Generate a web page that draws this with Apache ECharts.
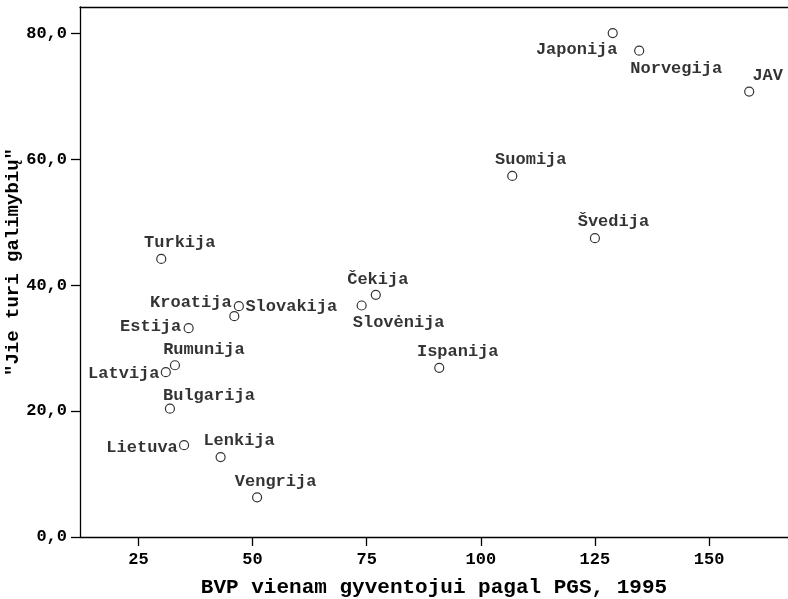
<!DOCTYPE html>
<html>
<head>
<meta charset="utf-8">
<script src="https://cdn.jsdelivr.net/npm/echarts@6/dist/echarts.min.js"></script>
<style>
  html, body { margin: 0; padding: 0; background: #fff; }
  #chart { width: 788px; height: 599px; }
</style>
</head>
<body>
<div id="chart"></div>
<script>
  // data
  const countries = ['Japonija', 'Norvegija', 'JAV', 'Suomija', 'Švedija', 'Turkija', 'Čekija',
    'Slovėnija', 'Kroatija', 'Slovakija', 'Estija', 'Rumunija', 'Latvija', 'Ispanija',
    'Bulgarija', 'Lietuva', 'Lenkija', 'Vengrija'];
  const gdp = [128.9, 134.7, 158.8, 106.9, 125.0, 30.0, 77.0,
    73.9, 47.0, 46.0, 36.0, 33.0, 31.0, 90.9,
    31.9, 35.0, 43.0, 51.0];
  const chances = [80.1, 77.3, 70.8, 57.4, 47.5, 44.2, 38.5,
    36.8, 36.7, 35.1, 33.2, 27.3, 26.2, 26.9,
    20.4, 14.6, 12.7, 6.3];
  const xTicks = [25, 50, 75, 100, 125, 150];
  const yTicks = [0, 20, 40, 60, 80];

  // where each label sits relative to its point (px)
  const labelOffsets = {
    'Japonija': [-36, 17], 'Norvegija': [37, 18], 'Slovėnija': [37, 17],
    'Kroatija': [-48, -3], 'Slovakija': [57, -9], 'Estija': [-38, -1],
    'Latvija': [-42, 2], 'Lietuva': [-42, 3], 'Bulgarija': [39, -13],
    'Rumunija': [29, -16], 'Čekija': [2, -15]
  };

  const font = 'Liberation Mono';
  const chart = echarts.init(document.getElementById('chart'));

  const points = countries.map((c, i) => ({
    name: c,
    value: [gdp[i], chances[i]],
    label: { offset: labelOffsets[c] || [18.5, -16] }
  }));

  chart.setOption({
    animation: false,
    grid: { left: 80, top: 7, right: 0, bottom: 62, containLabel: false, outerBoundsMode: 'none' },
    xAxis: [{
      type: 'value',
      min: 12.2,
      max: 167.3,
      name: 'BVP vienam gyventojui pagal PGS, 1995',
      nameLocation: 'middle',
      nameGap: 40,
      nameMoveOverlap: false,
      nameTextStyle: { fontFamily: font, fontWeight: 'bold', fontSize: 21, color: '#000' },
      axisLine: { lineStyle: { color: '#000', width: 1.3 } },
      axisTick: { customValues: xTicks, length: 9, lineStyle: { color: '#000', width: 1.3 } },
      axisLabel: { customValues: xTicks, margin: 14, fontFamily: font, fontWeight: 'bold', fontSize: 17, color: '#000' },
      splitLine: { show: false }
    }, {
      type: 'value',
      position: 'top',
      min: 12.2,
      max: 167.3,
      axisLine: { show: true, lineStyle: { color: '#000', width: 1.3 } },
      axisTick: { show: false },
      axisLabel: { show: false },
      splitLine: { show: false }
    }],
    yAxis: {
      type: 'value',
      min: 0,
      max: 84.25,
      name: '"Jie turi galimybių"',
      nameLocation: 'middle',
      nameGap: 57,
      nameMoveOverlap: false,
      nameTextStyle: { fontFamily: font, fontWeight: 'bold', fontSize: 19, color: '#000', padding: [0, 0, 0, 20] },
      axisLine: { show: true, lineStyle: { color: '#000', width: 1.3 } },
      axisTick: { show: true, customValues: yTicks, length: 9, lineStyle: { color: '#000', width: 1.3 } },
      axisLabel: {
        customValues: yTicks, margin: 13, fontFamily: font, fontWeight: 'bold', fontSize: 17, color: '#000',
        formatter: v => v.toFixed(1).replace('.', ',')
      },
      splitLine: { show: false }
    },
    series: [{
      type: 'scatter',
      symbol: 'circle',
      symbolSize: 9,
      itemStyle: { color: '#fff', borderColor: '#000', borderWidth: 1.2 },
      label: {
        show: true,
        position: 'inside',
        formatter: '{b}',
        fontFamily: font,
        fontWeight: 'bold',
        fontSize: 17,
        color: '#000'
      },
      data: points
    }]
  });
</script>
</body>
</html>
